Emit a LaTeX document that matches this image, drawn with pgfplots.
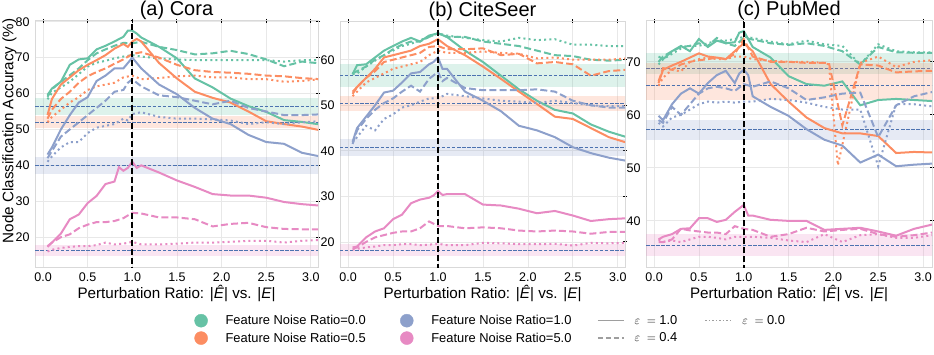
\documentclass[border=0pt]{standalone}
\usepackage{fontspec}
\setmainfont{Liberation Sans}
\usepackage{pgfplots}
\pgfplotsset{compat=1.18}
\usepackage{pgfplotstable}

\definecolor{cG}{HTML}{66C2A5}
\definecolor{cO}{HTML}{FC8D62}
\definecolor{cB}{HTML}{8DA0CB}
\definecolor{cP}{HTML}{E78AC3}
\definecolor{base}{HTML}{4C72B0}

% columns: g/o/b/p = noise 0.0/0.5/1.0/5.0 ; 1 = eps 1.0, 4 = eps 0.4, 0 = eps 0.0
\pgfplotstableread{
x    g1   g4   g0   o1   o4   o0   b1   b4   b0   p1   p4   p0
0.05 59.6 59.1 58.4 54.0 53.0 52.0 43.0 42.0 41.0 17.3 17.5 16.0
0.1  61.4 61.2 60.2 58.5 55.5 53.5 45.0 44.0 42.5 18.5 18.5 16.5
0.2  63.3 63.3 61.7 62.5 58.5 55.5 50.0 48.0 45.0 21.0 20.0 17.0
0.3  68.0 65.1 63.3 64.5 60.5 57.5 54.0 50.0 46.5 25.0 20.8 17.3
0.4  69.5 67.0 65.4 66.5 63.0 59.0 57.5 52.0 46.5 26.3 22.5 17.5
0.5  69.8 69.3 67.5 68.0 64.8 61.0 59.0 54.0 49.0 29.5 23.5 17.5
0.6  72.3 71.2 68.6 69.3 66.0 62.0 63.5 56.0 50.5 31.5 24.2 17.8
0.7  73.3 72.3 69.1 70.7 67.0 62.5 65.0 58.0 51.0 34.8 24.2 18.5
0.8  74.5 73.3 69.8 72.5 68.3 63.0 67.0 60.5 51.5 35.5 24.5 18.0
0.85 nan  nan  nan  nan  nan  nan  nan  nan  nan  39.5 nan  nan
0.9  75.8 74.1 70.3 73.8 69.5 64.5 67.0 61.0 53.0 38.5 25.3 18.2
0.95 77.5 nan  nan  73.0 nan  nan  68.5 63.0 52.5 39.3 nan  nan
1.0  77.5 74.0 70.7 74.5 71.0 65.0 70.0 64.0 54.3 41.0 26.8 18.7
1.05 76.7 nan  nan  75.2 nan  nan  68.5 63.0 nan  39.3 nan  nan
1.1  75.6 74.4 70.3 74.5 71.5 64.0 67.0 62.0 54.8 40.0 26.6 18.0
1.3  73.0 73.0 69.8 68.5 70.0 64.3 62.5 59.5 53.5 38.0 25.5 18.0
1.5  69.8 72.1 69.5 64.2 68.0 64.8 59.8 59.0 53.0 35.8 25.5 18.2
1.7  64.2 70.9 69.3 60.5 66.5 65.0 56.0 58.0 53.0 34.0 25.0 18.5
1.9  61.7 71.2 69.3 58.8 66.0 64.5 53.0 57.0 52.8 32.0 23.0 18.5
2.1  58.6 71.9 69.3 57.5 65.8 64.5 51.5 58.0 52.5 31.6 23.7 18.7
2.3  56.5 71.0 69.3 55.0 65.5 64.0 48.5 56.0 51.5 31.6 24.0 19.0
2.5  54.9 69.5 69.3 52.3 65.0 64.0 46.5 55.0 52.0 31.0 22.8 19.0
2.7  52.6 67.6 68.9 51.5 64.8 63.3 46.0 54.0 51.5 29.8 22.3 18.5
2.9  52.1 68.9 69.3 50.8 64.3 63.5 43.5 54.0 52.0 29.2 22.2 19.0
3.1  51.4 68.4 69.3 49.8 64.0 64.0 42.5 54.2 52.3 28.8 22.2 19.2
}\tabA

\pgfplotstableread{
x    g1   g4   g0   o1   o4   o0   b1   b4   b0   p1   p4   p0
0.05 56.8 57.0 56.8 53.0 52.5 52.0 42.0 41.5 41.8 18.8 18.5 18.3
0.1  58.8 57.5 57.0 54.0 54.0 53.0 45.0 44.5 43.0 19.0 18.8 18.5
0.2  59.0 58.5 58.5 56.0 56.0 55.0 47.5 47.0 45.5 21.0 20.0 18.8
0.3  60.5 60.0 59.8 58.0 57.5 56.0 50.0 49.0 44.5 22.3 21.0 19.0
0.4  62.0 61.0 61.0 60.5 59.5 57.0 52.8 50.5 47.0 23.0 21.5 19.3
0.5  63.0 62.3 62.0 61.0 60.0 58.0 53.2 51.5 48.0 25.0 22.0 19.3
0.6  64.0 63.3 63.0 61.5 60.5 58.5 55.0 53.0 49.5 26.0 22.3 19.5
0.7  64.8 64.0 63.5 62.0 61.0 59.0 57.0 54.3 50.0 28.5 22.3 19.5
0.8  64.0 64.0 64.3 63.0 61.5 59.5 57.3 53.0 50.8 29.3 23.0 19.3
0.9  65.3 65.0 65.0 63.5 62.8 61.0 59.0 55.8 51.5 29.7 24.5 19.4
0.95 nan  nan  nan  nan  nan  nan  59.5 nan  nan  30.2 nan  nan
1.0  65.8 65.8 65.8 64.5 63.0 62.0 60.5 57.3 51.5 31.2 23.5 19.6
1.05 nan  nan  nan  nan  nan  nan  58.0 55.3 nan  30.3 nan  nan
1.1  65.0 65.0 65.3 63.0 62.3 61.5 58.0 56.0 52.5 30.5 23.5 19.3
1.3  62.0 65.0 64.8 61.0 62.3 61.5 53.0 53.8 52.0 30.5 23.0 19.3
1.5  59.5 64.0 64.3 58.5 62.5 61.8 51.0 53.3 51.5 28.2 23.2 19.8
1.7  56.5 63.5 64.0 55.8 61.0 61.5 48.7 53.3 51.0 28.0 23.0 19.7
1.9  53.5 63.0 64.8 53.0 61.3 61.3 45.5 53.3 50.8 27.3 22.5 19.5
2.1  51.0 62.0 64.3 50.3 59.2 60.3 44.5 53.5 50.5 26.3 22.3 19.5
2.3  49.0 61.0 64.5 47.5 59.5 60.5 43.0 53.0 51.0 26.8 22.5 19.6
2.5  48.2 60.8 63.3 47.0 59.0 60.0 40.8 51.0 50.5 25.8 22.3 19.2
2.7  45.8 60.0 63.3 45.0 56.5 60.0 39.5 50.0 50.0 24.6 21.8 19.8
2.9  44.2 59.8 63.0 43.0 57.5 60.0 38.5 49.5 49.8 25.0 22.2 19.7
3.1  43.0 60.0 63.0 41.8 57.8 60.3 37.8 49.5 49.8 25.2 22.2 19.8
}\tabB

\pgfplotstableread{
x    g1   g4   g0   o1   o4   o0   b1   b4   b0   p1   p4   p0
0.05 71.0 70.0 69.5 66.0 66.3 65.5 59.8 59.0 58.5 36.5 36.0 36.5
0.1  70.5 71.0 70.5 68.5 68.8 67.0 59.0 58.5 57.8 37.0 36.0 36.0
0.2  72.0 72.0 71.5 69.3 68.5 68.5 62.0 61.5 59.5 37.5 36.5 36.3
0.3  73.0 72.8 72.5 70.0 69.5 68.2 64.0 60.0 60.0 38.5 38.5 36.0
0.4  72.0 73.0 73.0 70.8 70.0 70.0 65.0 62.0 61.0 38.6 38.2 36.5
0.5  74.3 73.5 73.0 71.6 70.3 70.5 64.0 64.0 62.0 40.5 38.0 37.0
0.6  72.8 73.0 73.5 71.0 70.5 70.8 66.0 65.0 62.5 40.5 37.8 37.0
0.7  74.0 74.5 74.0 70.8 70.8 70.5 67.5 65.3 62.3 39.8 37.8 36.8
0.8  73.5 73.5 74.0 70.5 70.5 70.5 68.3 65.0 62.5 40.2 37.5 36.5
0.9  73.7 73.0 74.3 72.0 71.5 71.0 66.0 64.5 62.3 41.7 39.0 37.0
0.95 75.5 nan  nan  nan  nan  nan  67.8 nan  nan  nan  nan  nan
1.0  75.8 74.5 74.7 73.5 74.3 71.0 68.5 65.8 62.5 43.0 38.5 37.0
1.05 nan  nan  nan  nan  nan  nan  67.5 nan  nan  41.0 nan  nan
1.1  72.8 74.2 74.5 72.0 71.0 70.5 63.5 65.3 62.5 41.0 38.3 37.0
1.3  70.8 73.5 73.8 65.8 70.0 70.2 61.5 66.3 63.0 40.2 37.0 36.8
1.5  67.3 73.2 73.3 62.5 70.0 70.0 59.8 65.0 62.8 40.0 37.5 36.3
1.7  65.8 73.5 74.0 59.5 69.8 70.0 57.3 62.8 62.3 40.0 38.7 36.0
1.9  65.5 73.0 73.3 57.5 69.8 69.8 55.3 63.3 61.5 38.3 38.0 37.5
1.95 nan  nan  nan  nan  69.8 69.5 nan  nan  nan  nan  nan  nan
2.05 nan  nan  nan  nan  nan  50.5 nan  nan  nan  nan  nan  nan
2.1  66.3 72.0 73.0 56.5 58.0 nan  54.2 64.0 61.0 38.5 38.3 36.0
2.3  61.8 69.5 69.5 56.5 69.5 69.8 51.0 64.2 61.0 38.7 38.5 37.3
2.5  62.8 72.8 73.3 56.0 69.3 71.0 52.5 55.8 50.3 38.0 37.5 37.5
2.7  63.0 71.8 72.0 52.8 68.0 69.0 50.3 61.8 62.0 37.2 37.0 36.8
2.9  62.8 71.7 71.8 53.0 68.2 70.0 50.6 63.5 62.0 38.5 37.3 36.8
3.1  62.6 71.7 71.8 52.9 68.3 70.3 50.8 64.3 61.6 39.3 37.8 37.3
}\tabC

\pgfplotsset{
  s1/.style={line width=2pt},
  s4/.style={line width=2pt, dash pattern=on 7pt off 3.2pt},
  s0/.style={line width=2pt, dash pattern=on 2pt off 3.2pt},
  dotimg/.style={legend image code/.code={\fill[#1] (6.5pt,0pt) circle (6.5pt); \path (0pt,0pt) (30.8pt,0pt);}},
  lineimg/.style={legend image code/.code={\draw[black!38, line width=1.6pt, #1] (0pt,0pt) -- (26.7pt,0pt); \path (36.7pt,0pt);}},
  panel/.style={
    scale only axis, height=246pt, xmin=-0.09, xmax=3.08,
    xtick={0,0.5,...,3},
    xticklabel style={/pgf/number format/fixed, /pgf/number format/fixed zerofill, /pgf/number format/precision=1},
    /pgf/number format/assume math mode=true,
    grid=major, grid style={gray!18, line width=0.8pt},
    axis line style={gray!30, line width=1pt},
    xtick pos=upper, xticklabel pos=lower, ytick pos=right, yticklabel pos=left,
    tick style={black, line width=0.9pt}, major tick length=4pt, tick align=center,
    ticklabel style={font=\fontsize{12.5}{13}\selectfont},
    title style={font=\fontsize{20}{22}\selectfont, at={(0.5,1)}, anchor=base, yshift=-1pt},
    xlabel={Perturbation Ratio: |\textit{\^E}| vs. |\textit{E}|},
    label style={font=\fontsize{15.2}{16}\selectfont},
    xlabel style={at={(axis description cs:0.5,0)}, anchor=base, yshift=-31.5pt},
    unbounded coords=discard,
  },
}
\newcommand\band[4]{%
  \addplot[draw=none, fill=#1, fill opacity=0.22, forget plot] coordinates {(-1,#2) (4,#2) (4,#3) (-1,#3)};
  \addplot[base, line width=0.8pt, dash pattern=on 3.5pt off 1.6pt, forget plot] coordinates {(-1,#4) (4,#4)};
}
\newcommand\lines[1]{%
  \addplot[cG, s1, forget plot] table[x=x, y=g1] {#1};
  \addplot[cG, s4, forget plot] table[x=x, y=g4] {#1};
  \addplot[cG, s0, forget plot] table[x=x, y=g0] {#1};
  \addplot[cO, s1, forget plot] table[x=x, y=o1] {#1};
  \addplot[cO, s4, forget plot] table[x=x, y=o4] {#1};
  \addplot[cO, s0, forget plot] table[x=x, y=o0] {#1};
  \addplot[cB, s1, forget plot] table[x=x, y=b1] {#1};
  \addplot[cB, s4, forget plot] table[x=x, y=b4] {#1};
  \addplot[cB, s0, forget plot] table[x=x, y=b0] {#1};
  \addplot[cP, s1, forget plot] table[x=x, y=p1] {#1};
  \addplot[cP, s4, forget plot] table[x=x, y=p4] {#1};
  \addplot[cP, s0, forget plot] table[x=x, y=p0] {#1};
  \addplot[black, line width=1.8pt, dash pattern=on 6pt off 3pt, forget plot] coordinates {(1,0) (1,100)};
}
\newcommand\lt[2]{\makebox[#1][l]{\fontsize{12.9}{14}\selectfont #2}}

\begin{document}
\begin{tikzpicture}
\path[use as bounding box] (0pt,0pt) rectangle (934pt,354pt);

\begin{axis}[panel, at={(35pt,87pt)}, anchor=south west, width=283pt,
  ymin=11.7, ymax=80.2, ytick={20,30,...,80}, title={(a) Cora},
  ylabel={Node Classification Accuracy (\%)},
  ylabel style={at={(axis description cs:-0.076,0.553)}, anchor=base}]
\band{cG}{54.0}{58.8}{56.5}
\band{cO}{50.3}{53.7}{52.1}
\band{cB}{37.6}{42.2}{40.1}
\band{cP}{14.8}{17.8}{16.4}
\lines{\tabA}
\end{axis}

\begin{axis}[panel, at={(340pt,87pt)}, anchor=south west, width=285pt,
  ymin=14.5, ymax=68.5, ytick={20,30,...,60}, title={(b) CiteSeer},
  legend columns=4, legend cell align=left,
  legend style={at={(-0.5116,-0.1902)}, anchor=north west, draw=none, fill=none,
    inner sep=0pt, column sep=0pt, row sep=4pt,
    nodes={inner sep=0pt, text depth=0.15em}}]
\band{cG}{54.1}{59.0}{56.5}
\band{cO}{48.7}{52.0}{50.35}
\band{cB}{38.8}{42.7}{40.8}
\band{cP}{16.9}{19.5}{18.2}
\lines{\tabB}
\addlegendimage{dotimg=cG}
\addlegendentry{\lt{174.5pt}{Feature Noise Ratio=0.0}}
\addlegendimage{dotimg=cB}
\addlegendentry{\lt{165.7pt}{Feature Noise Ratio=1.0}}
\addlegendimage{lineimg=solid}
\addlegendentry{\lt{70pt}{$\varepsilon\;=\;$1.0}}
\addlegendimage{lineimg={dash pattern=on 1.3pt off 2.2pt}}
\addlegendentry{\lt{50pt}{$\varepsilon\;=\;$0.0}}
\addlegendimage{dotimg=cO}
\addlegendentry{\lt{174.5pt}{Feature Noise Ratio=0.5}}
\addlegendimage{dotimg=cP}
\addlegendentry{\lt{165.7pt}{Feature Noise Ratio=5.0}}
\addlegendimage{lineimg={dash pattern=on 5pt off 3pt}}
\addlegendentry{\lt{70pt}{$\varepsilon\;=\;$0.4}}
\end{axis}

\begin{axis}[panel, at={(646pt,87pt)}, anchor=south west, width=286pt,
  xmax=3.1, ymin=31.3, ymax=77.7, ytick={40,50,60,70}, title={(c) PubMed}]
\band{cG}{67.7}{71.6}{68.75}
\band{cO}{62.8}{69.7}{65.6}
\band{cB}{55.2}{59.1}{57.2}
\band{cP}{33.3}{37.5}{35.4}
\lines{\tabC}
\end{axis}
\end{tikzpicture}
\end{document}
